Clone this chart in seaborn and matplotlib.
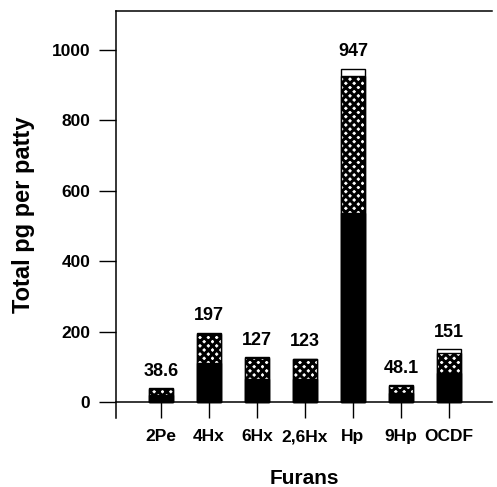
import pandas as pd
import seaborn as sns
import matplotlib.pyplot as plt

# black bottom, crosshatch middle, white top
furans = ['2Pe', '4Hx', '6Hx', '2,6Hx', 'Hp', '9Hp', 'OCDF']
black_part = [20, 110, 64, 65, 537, 26, 83]
hatch_part = [18, 83, 61, 56, 389, 20, 55]
totals = [38.6, 197, 127, 123, 947, 48.1, 151]
total_labels = ['38.6', '197', '127', '123', '947', '48.1', '151']

sns.set_style('white')
plt.rcParams['font.family'] = ['Liberation Sans', 'DejaVu Sans']
plt.rcParams['font.weight'] = 'bold'
plt.rcParams['hatch.linewidth'] = 2.2
for key in ['text.color', 'axes.labelcolor', 'xtick.color', 'ytick.color', 'axes.edgecolor']:
    plt.rcParams[key] = 'black'

df = pd.DataFrame({'Furan': furans, 'black': black_part, 'hatch': hatch_part, 'total': totals})
df['black_hatch'] = df['black'] + df['hatch']

fig = plt.figure(figsize=(4.97, 4.87), dpi=100)
ax = fig.add_axes([116 / 497, 1 - 418 / 487, (492 - 116) / 497, (418 - 11) / 487])

bar_w = 0.52
# draw cumulative layers from the top down so each covers the one behind
sns.barplot(data=df, x='Furan', y='total', order=furans, color='white',
            edgecolor='black', linewidth=1.0, width=bar_w, saturation=1, ax=ax)
n0 = len(ax.patches)
sns.barplot(data=df, x='Furan', y='black_hatch', order=furans, color='white',
            edgecolor='black', linewidth=1.0, width=bar_w, saturation=1, ax=ax)
for p in ax.patches[n0:]:
    p.set_hatch('xxxx')
sns.barplot(data=df, x='Furan', y='black', order=furans, color='black',
            edgecolor='black', linewidth=1.0, width=bar_w, saturation=1, ax=ax)

for i, (t, lab) in enumerate(zip(totals, total_labels)):
    ax.annotate(lab, (i, t), xytext=(0, 6), textcoords='offset points',
                ha='center', va='bottom', fontsize=13, fontweight='bold', color='black')

ax.set_xlim(-0.9375, 6.896)
ax.set_ylim(-45.5, 1111)
ax.set_yticks([0, 200, 400, 600, 800, 1000])

ax.spines['bottom'].set_position(('data', 0))
ax.spines['right'].set_visible(False)
for s in ['left', 'bottom', 'top']:
    ax.spines[s].set_linewidth(1.1)
    ax.spines[s].set_color('black')

ax.tick_params(axis='y', direction='out', length=12, width=1.0, labelsize=12.5, pad=6.5,
               left=True, colors='black')
ax.tick_params(axis='x', direction='out', length=11.5, width=1.0, labelsize=12.5, pad=8,
               bottom=True, colors='black')
for lab in ax.get_xticklabels() + ax.get_yticklabels():
    lab.set_fontweight('bold')

ax.set_ylabel('Total pg per patty', fontsize=17, fontweight='bold', labelpad=12, color='black')
ax.set_xlabel('')
fig.text(304 / 497, 1 - 478 / 487, 'Furans', ha='center', va='center',
         fontsize=15, fontweight='bold', color='black')

fig.savefig('out.png', dpi=100)
